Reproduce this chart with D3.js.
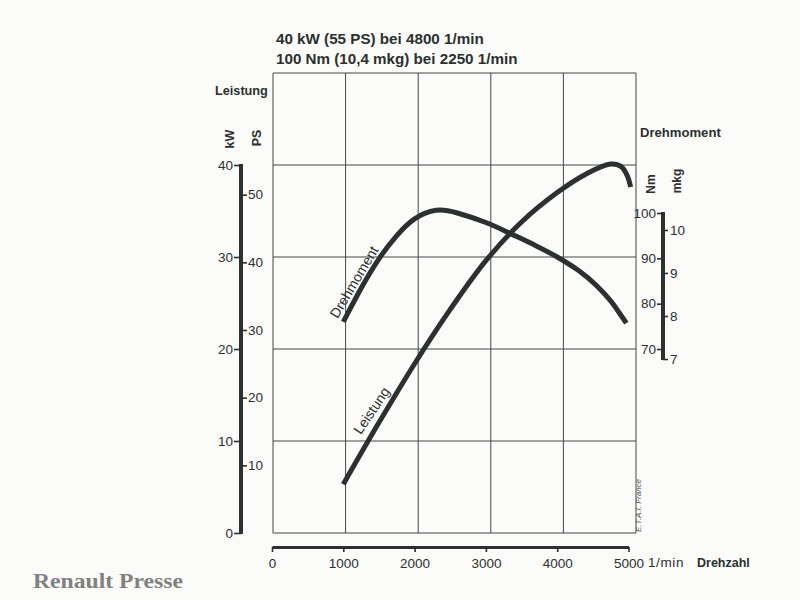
<!DOCTYPE html>
<html><head><meta charset="utf-8">
<script src="https://cdn.jsdelivr.net/npm/d3@7"></script>
<style>body{margin:0;background:#fbfbfa}</style>
</head><body>
<svg id="c" width="800" height="600"></svg>
<script>
// ---- data ----
const titleLines = ["40 kW (55 PS) bei 4800 1/min", "100 Nm (10,4 mkg) bei 2250 1/min"];
const rpmTicks = [0, 1000, 2000, 3000, 4000, 5000];
const kwTicks = [0, 10, 20, 30, 40];
const psTicks = [10, 20, 30, 40, 50];
const nmTicks = [70, 80, 90, 100];
const mkgTicks = [7, 8, 9, 10];
const gridRpm = [0, 1000, 2000, 3000, 4000, 5000];
const gridKw = [0, 10, 20, 30, 40, 50];
const powerRpm = [1000, 1500, 2000, 2500, 3000, 3500, 4000, 4400, 4750, 4900, 4990, 5030];
const powerKw  = [5.3, 12.0, 18.4, 24.3, 29.6, 33.8, 37.0, 39.0, 40.1, 39.8, 38.7, 37.6];
const torqueRpm = [1000, 1250, 1500, 1750, 2000, 2300, 2600, 3000, 3340, 3700, 4000, 4300, 4550, 4750, 4870, 4970];
const torqueNm  = [76, 83.4, 89.9, 95.0, 98.7, 100.6, 100.0, 97.9, 95.5, 92.8, 90.3, 87.3, 84.0, 80.6, 78.0, 75.7];

// ---- setup ----
const ink = "#2c302e";
const font = "'Liberation Sans', Arial, sans-serif";
const svg = d3.select("#c");
svg.append("rect").attr("width", 800).attr("height", 600).attr("fill", "#fbfbfa");

const xAxisS = d3.scaleLinear().domain([0, 5000]).range([272, 628.5]);
const xGrid = d3.scaleLinear().domain([0, 5000]).range([273, 636]);
const yKW = d3.scaleLinear().domain([0, 50]).range([533, 73]);
const yPS = d3.scaleLinear().domain([0, 50 / 0.7355]).range([533, 73]);
const yNm = d3.scaleLinear().domain([70, 100]).range([349, 213]);
const yMkg = d3.scaleLinear().domain([7, 10]).range([359, 230]);
const fmt = d3.format("d");

// ---- grid ----
const grid = svg.append("g").attr("stroke", "#454846").attr("stroke-width", 1);
gridRpm.forEach(v => grid.append("line")
  .attr("x1", xGrid(v)).attr("x2", xGrid(v)).attr("y1", yKW(50)).attr("y2", yKW(0)));
gridKw.forEach(v => grid.append("line")
  .attr("x1", xGrid(0)).attr("x2", xGrid(5000)).attr("y1", yKW(v)).attr("y2", yKW(v)));

// ---- titles ----
titleLines.forEach((t, i) => svg.append("text")
  .attr("x", 276).attr("y", 44 + i * 19.5)
  .attr("font-family", font).attr("font-weight", "bold").attr("font-size", 15.2)
  .attr("fill", ink).text(t));

function styleAxis(g, fs) {
  g.selectAll("text").attr("font-family", font).attr("font-size", fs).attr("fill", ink);
  g.selectAll(".tick line").attr("stroke", ink).attr("stroke-width", 1.6);
  g.select(".domain").remove();
}

// ---- left axes ----
const gKW = svg.append("g").attr("transform", "translate(241,0)")
  .call(d3.axisLeft(yKW).tickValues(kwTicks).tickFormat(fmt).tickSize(7).tickPadding(1));
styleAxis(gKW, 13.5);
const gPS = svg.append("g").attr("transform", "translate(241,0)")
  .call(d3.axisRight(yPS).tickValues(psTicks).tickFormat(fmt).tickSize(6).tickPadding(1));
styleAxis(gPS, 13.5);
svg.append("line").attr("x1", 241).attr("x2", 241)
  .attr("y1", yKW(40) - 1).attr("y2", yKW(0) + 1)
  .attr("stroke", ink).attr("stroke-width", 4);

svg.append("text").attr("x", 215).attr("y", 95).attr("font-family", font)
  .attr("font-weight", "bold").attr("font-size", 12.7).attr("fill", ink).text("Leistung");
svg.append("text").attr("transform", "translate(234,139) rotate(-90)").attr("text-anchor", "middle")
  .attr("font-family", font).attr("font-weight", "bold").attr("font-size", 12.5).attr("fill", ink).text("kW");
svg.append("text").attr("transform", "translate(261,138) rotate(-90)").attr("text-anchor", "middle")
  .attr("font-family", font).attr("font-weight", "bold").attr("font-size", 12.5).attr("fill", ink).text("PS");

// ---- right axes ----
const gNm = svg.append("g").attr("transform", "translate(663,0)")
  .call(d3.axisLeft(yNm).tickValues(nmTicks).tickFormat(fmt).tickSize(6).tickPadding(1));
styleAxis(gNm, 13.5);
const gMkg = svg.append("g").attr("transform", "translate(663,0)")
  .call(d3.axisRight(yMkg).tickValues(mkgTicks).tickFormat(fmt).tickSize(5).tickPadding(2));
styleAxis(gMkg, 13.5);
svg.append("line").attr("x1", 663).attr("x2", 663)
  .attr("y1", yNm(100) - 1).attr("y2", yMkg(7) + 1)
  .attr("stroke", ink).attr("stroke-width", 4);

svg.append("text").attr("x", 640).attr("y", 137).attr("font-family", font)
  .attr("font-weight", "bold").attr("font-size", 13.1).attr("fill", ink).text("Drehmoment");
svg.append("text").attr("transform", "translate(655,184) rotate(-90)").attr("text-anchor", "middle")
  .attr("font-family", font).attr("font-weight", "bold").attr("font-size", 12).attr("fill", ink).text("Nm");
svg.append("text").attr("transform", "translate(681,181) rotate(-90)").attr("text-anchor", "middle")
  .attr("font-family", font).attr("font-weight", "bold").attr("font-size", 12).attr("fill", ink).text("mkg");

// ---- bottom axis ----
const gX = svg.append("g").attr("transform", "translate(0,547)")
  .call(d3.axisBottom(xAxisS).tickValues(rpmTicks).tickFormat(fmt).tickSize(5).tickSizeOuter(0).tickPadding(6));
gX.selectAll("text").attr("font-family", font).attr("font-size", 13.5).attr("fill", ink);
gX.selectAll(".tick line").attr("stroke", ink).attr("stroke-width", 1.6);
gX.select(".domain").attr("stroke", ink).attr("stroke-width", 3);
svg.append("text").attr("x", 648).attr("y", 567).attr("font-family", font)
  .attr("font-size", 13.5).attr("letter-spacing", 0.6).attr("fill", ink).text("1/min");
svg.append("text").attr("x", 697).attr("y", 567).attr("font-family", font)
  .attr("font-weight", "bold").attr("font-size", 12.5).attr("fill", ink).text("Drehzahl");

// ---- curves ----
const lineP = d3.line().x(d => xAxisS(d[0])).y(d => yKW(d[1])).curve(d3.curveCatmullRom.alpha(0.5));
const lineT = d3.line().x(d => xAxisS(d[0])).y(d => yNm(d[1])).curve(d3.curveNatural);
svg.append("path").attr("d", lineP(d3.zip(powerRpm, powerKw)))
  .attr("fill", "none").attr("stroke", ink).attr("stroke-width", 5);
svg.append("path").attr("d", lineT(d3.zip(torqueRpm, torqueNm)))
  .attr("fill", "none").attr("stroke", ink).attr("stroke-width", 5);

svg.append("text").attr("transform", "translate(371.5,410.5) rotate(-56)").attr("text-anchor", "middle")
  .attr("dominant-baseline", "central").attr("font-family", font).attr("font-size", 14)
  .attr("fill", ink).text("Leistung");
svg.append("text").attr("transform", "translate(354,282) rotate(-59)").attr("text-anchor", "middle")
  .attr("dominant-baseline", "central").attr("font-family", font).attr("font-size", 14)
  .attr("fill", ink).text("Drehmoment");

// ---- credits ----
svg.append("text").attr("transform", "translate(641,505.5) rotate(-90)").attr("text-anchor", "middle")
  .attr("font-family", font).attr("font-style", "italic").attr("font-size", 8).attr("fill", "#555")
  .text("E.T.A.I. France");
svg.append("text").attr("x", 33).attr("y", 588)
  .attr("font-family", "'Liberation Serif', 'DejaVu Serif', serif").attr("font-weight", "bold")
  .attr("font-size", 22).attr("textLength", 150).attr("lengthAdjust", "spacingAndGlyphs")
  .attr("fill", "#818181").text("Renault Presse");
</script>
</body></html>
